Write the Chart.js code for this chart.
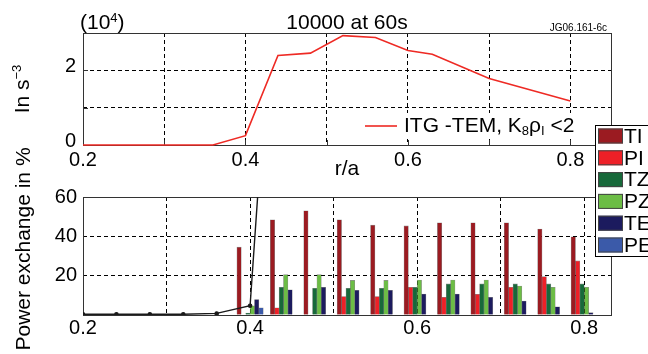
<!DOCTYPE html>
<html>
<head>
<meta charset="utf-8">
<script src="https://cdn.jsdelivr.net/npm/chart.js@4.4.0/dist/chart.umd.min.js"></script>
<style>
    html, body { margin: 0; padding: 0; background: #fff; }
    #wrap { position: relative; width: 648px; height: 354px; overflow: hidden; }
    #topBox { position: absolute; left: 0; top: 0; width: 648px; height: 180px; }
    #botBox { position: absolute; left: 0; top: 115px; width: 648px; height: 239px; }
</style>
</head>
<body>
<div id="wrap">
    <div id="topBox"><canvas id="growthChart"></canvas></div>
    <div id="botBox"><canvas id="exchangeChart"></canvas></div>
</div>
<script>
// ----------------------------------------------------
// DATA
// ----------------------------------------------------
// top panel: ITG-TEM growth rate (units of 10^4 s^-3)
const growthR    = [0.20, 0.36, 0.40, 0.44, 0.48, 0.52, 0.56, 0.60, 0.63, 0.70, 0.80];
const growthRate = [0, 0, 0.25, 2.40, 2.46, 2.93, 2.88, 2.53, 2.43, 1.78, 1.18];

// bottom panel: power exchange in %
const groupR = [0.40, 0.44, 0.48, 0.52, 0.56, 0.60, 0.64, 0.68, 0.72, 0.76, 0.80];
const TI = [34.5, 48.4, 53.0, 48.4, 45.7, 45.3, 46.9, 46.9, 46.9, 43.7, 39.8];
const PI = [0, 3.7, 0, 9.4, 9.4, 14.1, 9.0, 10.5, 14.1, 19.5, 27.5];
const TZ = [1.0, 14.1, 13.6, 13.6, 13.6, 14.1, 15.8, 15.8, 15.8, 15.8, 15.8];
const PZ = [4.7, 20.5, 20.5, 17.6, 17.6, 17.8, 17.8, 17.8, 14.7, 14.1, 14.1];
const TE = [7.9, 12.8, 14.1, 12.6, 12.6, 10.7, 10.7, 9.0, 7.1, 4.2, 1.2];
const PE = [3.7, 0, 0, 0, 0, 0, 0, 0, 0, 0, 0];

const seriesNames  = ["TI", "PI", "TZ", "PZ", "TE", "PE"];
const seriesValues = [TI, PI, TZ, PZ, TE, PE];
const seriesColors = ["#9B1B21", "#EE2027", "#17693A", "#6CBD45", "#1C1B5E", "#3B5AA9"];

// black curve in the bottom panel
const curveR   = [0.20, 0.24, 0.28, 0.32, 0.36, 0.40, 0.44];
const curveVal = [0.4, 0.4, 0.4, 0.4, 0.8, 4.7, 250];

// axes
const rGrid      = [0.2, 0.3, 0.4, 0.5, 0.6, 0.7, 0.8];
const rLabelled  = [0.2, 0.4, 0.6, 0.8];
const topYGrid   = [0, 1, 2, 3];
const topYLabels = [0, 2];
const botYGrid   = [0, 20, 40, 60];
const botYLabels = [20, 40, 60];

const FONT = '"Liberation Sans", Arial, Helvetica, sans-serif';

// ----------------------------------------------------
// HELPERS
// ----------------------------------------------------
function hasValue(list, v) {
    return list.some(t => Math.abs(t - v) < 1e-6);
}

function drawFrame(ctx, a) {
    ctx.save();
    ctx.strokeStyle = "#333";
    ctx.lineWidth = 1;
    ctx.strokeRect(Math.round(a.left) + 0.5, Math.round(a.top) + 0.5,
        Math.round(a.right - a.left), Math.round(a.bottom - a.top));
    ctx.restore();
}

// text made of parts, some raised or lowered: parts = [[text, size, shift], ...]
function drawParts(ctx, parts, x, y) {
    parts.forEach(([txt, size, shift]) => {
        ctx.font = `${size}px ${FONT}`;
        ctx.fillText(txt, x, y + shift);
        x += ctx.measureText(txt).width;
    });
    return x;
}

function partsWidth(ctx, parts) {
    let w = 0;
    parts.forEach(([txt, size]) => {
        ctx.font = `${size}px ${FONT}`;
        w += ctx.measureText(txt).width;
    });
    return w;
}

const gridStyle = { color: "#000", lineWidth: 1, drawTicks: false, offset: false };
const dashBorder = { display: false, dash: [4, 3] };
const tickFont = { family: FONT, size: 20 };

// ----------------------------------------------------
// TOP PANEL DECORATION
// ----------------------------------------------------
const topDecor = {
    id: "topDecor",
    beforeDatasetsDraw(chart) {
        const { ctx, chartArea: a, scales } = chart;
        ctx.save();

        // legend with white background
        ctx.fillStyle = "#fff";
        ctx.fillRect(a.left + 276, a.bottom - 32, a.right - a.left - 282, 26);
        const ly = a.bottom - 19;
        ctx.strokeStyle = chart.data.datasets[0].borderColor;
        ctx.lineWidth = 1.6;
        ctx.beginPath();
        ctx.moveTo(a.left + 282, ly);
        ctx.lineTo(a.left + 314, ly);
        ctx.stroke();
        ctx.fillStyle = "#000";
        ctx.textBaseline = "middle";
        ctx.textAlign = "left";
        drawParts(ctx, [
            ["ITG -TEM, K", 21, 0], ["8", 13, 5], ["\u03c1", 21, 0], ["I", 13, 5], [" <2", 21, 0]
        ], a.left + 321, ly);

        drawFrame(ctx, a);

        // inward tick marks
        ctx.strokeStyle = "#333";
        ctx.lineWidth = 1;
        ctx.beginPath();
        rGrid.forEach(v => {
            const x = Math.round(scales.x.getPixelForValue(v)) + 0.5;
            ctx.moveTo(x, a.bottom);
            ctx.lineTo(x, a.bottom - 5);
        });
        topYGrid.forEach(v => {
            const y = Math.round(scales.y.getPixelForValue(v)) + 0.5;
            ctx.moveTo(a.left, y);
            ctx.lineTo(a.left + 5, y);
        });
        ctx.stroke();
        ctx.restore();
    },
    afterDraw(chart) {
        const { ctx, chartArea: a } = chart;
        ctx.save();
        ctx.fillStyle = "#000";
        ctx.textBaseline = "middle";

        // exponent marker
        ctx.textAlign = "left";
        drawParts(ctx, [["(10", 21, 0], ["4", 13, -5], [")", 21, 0]], a.left - 3, 23);

        // title
        ctx.textAlign = "center";
        ctx.font = `21px ${FONT}`;
        ctx.fillText("10000 at 60s", (a.left + a.right) / 2, 23);

        // figure reference
        ctx.textAlign = "right";
        ctx.font = `10px ${FONT}`;
        ctx.fillText("JG06.161-6c", a.right - 4, 28);

        // rotated y title with superscript
        const parts = [["In s", 21, 0], ["\u22123", 13, -6]];
        ctx.translate(23, (a.top + a.bottom) / 2);
        ctx.rotate(-Math.PI / 2);
        ctx.textAlign = "left";
        const w = partsWidth(ctx, parts);
        drawParts(ctx, parts, -w / 2, 0);
        ctx.restore();
    }
};

// ----------------------------------------------------
// BOTTOM PANEL DECORATION
// ----------------------------------------------------
const bottomDecor = {
    id: "bottomDecor",
    beforeDatasetsDraw(chart) {
        drawFrame(chart.ctx, chart.chartArea);
    },
    afterDraw(chart) {
        const { ctx, chartArea: a } = chart;
        ctx.save();

        // rotated y title
        ctx.fillStyle = "#000";
        ctx.font = `21px ${FONT}`;
        ctx.textAlign = "center";
        ctx.textBaseline = "middle";
        ctx.translate(24, a.top + 52);
        ctx.rotate(-Math.PI / 2);
        ctx.fillText("Power exchange in %", 0, 0);
        ctx.restore();

        // legend box, partly outside the figure on the right
        ctx.save();
        const bx = Math.round(a.right) - 16, by = Math.round(a.top) - 72;
        ctx.fillStyle = "#fff";
        ctx.fillRect(bx, by, 80, 131);
        ctx.strokeStyle = "#000";
        ctx.lineWidth = 1;
        ctx.strokeRect(bx + 0.5, by + 0.5, 80, 131);

        ctx.textAlign = "left";
        ctx.textBaseline = "middle";
        ctx.font = `21px ${FONT}`;
        chart.data.datasets.forEach((ds, i) => {
            if (ds.type === "line") return;
            const cy = by + 11 + i * 21.8;
            ctx.fillStyle = ds.backgroundColor;
            ctx.fillRect(bx + 3, cy - 7.5, 25, 15);
            ctx.strokeStyle = "#444";
            ctx.strokeRect(bx + 3.5, cy - 7, 24, 14);
            ctx.fillStyle = "#000";
            ctx.fillText(ds.label, bx + 29, cy + 1);
        });
        ctx.restore();
    }
};

// ----------------------------------------------------
// TOP PANEL
// ----------------------------------------------------
new Chart(document.getElementById("growthChart"), {
    type: "line",
    data: {
        datasets: [{
            label: "ITG -TEM",
            data: growthR.map((r, i) => ({ x: r, y: growthRate[i] })),
            borderColor: "#EE2A24",
            borderWidth: 1.6,
            pointRadius: 0,
            tension: 0,
            clip: false
        }]
    },
    options: {
        responsive: true,
        maintainAspectRatio: false,
        animation: false,
        layout: { padding: { top: 33, right: 37, left: 0, bottom: 0 } },
        plugins: { legend: { display: false }, tooltip: { enabled: false } },
        scales: {
            x: {
                type: "linear",
                min: 0.2,
                max: 0.85,
                afterFit: s => { s.height = 35; },
                afterBuildTicks: s => { s.ticks = rGrid.map(v => ({ value: v })); },
                grid: gridStyle,
                border: dashBorder,
                ticks: {
                    font: tickFont, color: "#000", padding: 3, maxRotation: 0, autoSkip: false,
                    callback: v => hasValue(rLabelled, v) ? v.toFixed(1) : ""
                },
                title: {
                    display: true, text: "r/a", color: "#000",
                    font: { family: FONT, size: 21, lineHeight: 1 }, padding: 0
                }
            },
            y: {
                min: 0,
                max: 3,
                afterFit: s => { s.width = 83; },
                afterBuildTicks: s => { s.ticks = topYGrid.map(v => ({ value: v })); },
                grid: gridStyle,
                border: dashBorder,
                ticks: {
                    font: tickFont, color: "#000", padding: 7, labelOffset: -4,
                    callback: v => hasValue(topYLabels, v) ? String(v) : ""
                }
            }
        }
    },
    plugins: [topDecor]
});

// ----------------------------------------------------
// BOTTOM PANEL
// ----------------------------------------------------
const barSets = seriesNames.map((name, k) => ({
    type: "bar",
    label: name,
    data: groupR.map((r, i) => ({ x: r, y: seriesValues[k][i] })),
    backgroundColor: seriesColors[k],
    borderColor: "rgba(0,0,0,0.45)",
    borderWidth: 0.6,
    barThickness: 4.4,
    order: 2
}));

new Chart(document.getElementById("exchangeChart"), {
    type: "bar",
    data: {
        datasets: [...barSets, {
            type: "line",
            label: "curve",
            data: curveR.map((r, i) => ({ x: r, y: curveVal[i] })),
            borderColor: "#1a1a1a",
            backgroundColor: "#1a1a1a",
            borderWidth: 1.4,
            pointRadius: 1.6,
            tension: 0,
            order: 1
        }]
    },
    options: {
        responsive: true,
        maintainAspectRatio: false,
        animation: false,
        layout: { padding: { top: 82, right: 37, left: 0, bottom: 0 } },
        plugins: { legend: { display: false }, tooltip: { enabled: false } },
        scales: {
            x: {
                type: "linear",
                min: 0.2,
                max: 0.832,
                offset: false,
                afterFit: s => { s.height = 39; },
                afterBuildTicks: s => { s.ticks = rGrid.map(v => ({ value: v })); },
                grid: gridStyle,
                border: dashBorder,
                ticks: {
                    font: tickFont, color: "#000", padding: 1, maxRotation: 0, autoSkip: false,
                    callback: v => hasValue(rLabelled, v) ? v.toFixed(1) : ""
                }
            },
            y: {
                min: 0,
                max: 60,
                afterFit: s => { s.width = 83; },
                afterBuildTicks: s => { s.ticks = botYGrid.map(v => ({ value: v })); },
                grid: gridStyle,
                border: dashBorder,
                ticks: {
                    font: tickFont, color: "#000", padding: 6,
                    callback: v => hasValue(botYLabels, v) ? String(v) : ""
                }
            }
        }
    },
    plugins: [bottomDecor]
});
</script>
</body>
</html>
